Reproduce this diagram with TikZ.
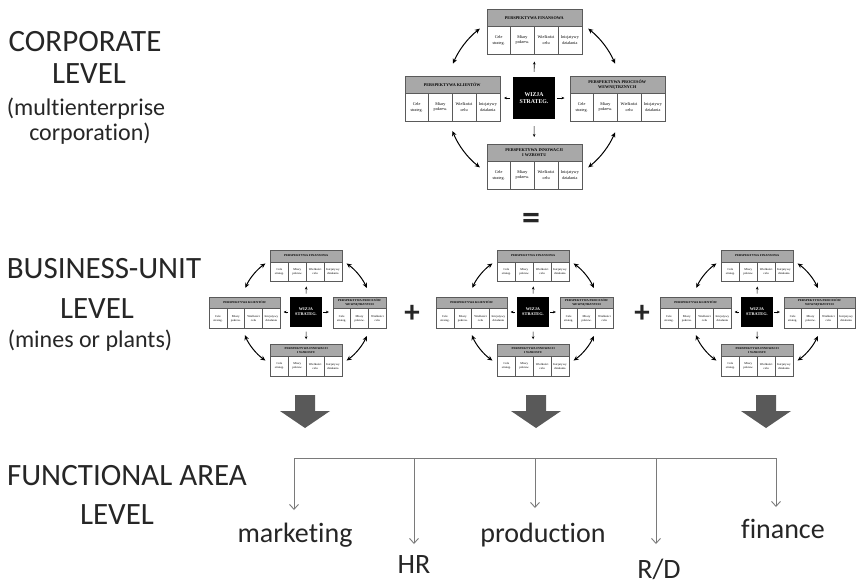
\documentclass[tikz,border=0pt]{standalone}
\usepackage{fontspec}
\setmainfont{Carlito}[Ligatures=NoCommon]
\newfontfamily\boxfont{Liberation Serif}
\usepackage{tikz}
\usetikzlibrary{arrows.meta, positioning, calc}
\definecolor{bscgray}{HTML}{A8A8A8}
\definecolor{bscline}{HTML}{5A5A5A}
\definecolor{dropgray}{HTML}{7A7A7A}
\definecolor{bigarrow}{HTML}{595959}
\definecolor{lvltext}{HTML}{262626}

\begin{document}
\begin{tikzpicture}[x=1pt, y=-1pt,
  hdr/.style={draw=bscline, fill=bscgray, line width=0.5pt, minimum height=17,
    inner sep=0.5pt, align=center, anchor=north west,
    font=\boxfont\bfseries\fontsize{4.2}{5}\selectfont},
  cell/.style={draw=bscline, fill=white, line width=0.5pt, minimum width=23.75,
    minimum height=28, inner sep=0pt, align=center, anchor=north west,
    font=\boxfont\fontsize{4.2}{5.6}\selectfont},
  wizja/.style={fill=black, minimum size=42, inner sep=0pt, align=center,
    text=white, font=\boxfont\bfseries\fontsize{5.8}{7.6}\selectfont},
  hub arrow/.style={-{Stealth[length=3pt,width=2.6pt]}, line width=0.6pt},
  loop arrow/.style={{Stealth[length=5pt,width=4.5pt]}-{Stealth[length=5pt,width=4.5pt]},
    line width=1pt},
  lvl/.style={font=\fontsize{31}{31}\selectfont, text=lvltext, inner sep=0pt, anchor=base},
  sublvl/.style={font=\fontsize{24}{24}\selectfont, text=lvltext, inner sep=0pt, anchor=base},
  area/.style={font=\fontsize{28}{28}\selectfont, text=lvltext, inner sep=0pt, anchor=base},
  sign/.style={font=\bfseries\fontsize{31}{31}\selectfont, text=lvltext, inner sep=0pt},
  spine/.style={draw=dropgray, line width=0.9pt},
  drop/.style={-{Straight Barb[length=5pt,width=9pt]}, draw=dropgray, line width=0.9pt}]

  \fill[white] (0,0) rectangle (864,587);
  \useasboundingbox (0,0) rectangle (864,587);

  %% --- level captions on the left ---
  \node[lvl] (corp1) at (85,51) {CORPORATE};
  \node[lvl] (corp2) at (89,83) {LEVEL};
  \node[sublvl] (corp3) at (86,115) {(multienterprise};
  \node[sublvl] (corp4) at (90,140) {corporation)};
  \node[lvl] (bu1) at (104,278) {BUSINESS-UNIT};
  \node[lvl] (bu2) at (97,318) {LEVEL};
  \node[sublvl] (bu3) at (90,347) {(mines or plants)};
  \node[lvl] (fa1) at (127,485) {FUNCTIONAL AREA};
  \node[lvl] (fa2) at (117,524) {LEVEL};

  %% --- scorecards: corporate one, then three business units ---
  \foreach \nm/\cx/\cy/\sx/\sy/\rc in {cor/534/98/1/1/4, bua/306/312/0.75/0.70/3,
      bub/533/312/0.75/0.70/3, buc/757/312/0.75/0.70/4} {
    \begin{scope}[shift={(\cx,\cy)}, xscale=\sx, yscale=\sy, transform shape]
      \node[wizja] (\nm-wiz) at (0,0) {WIZJA\\STRATEG.};
      %% perspectives: offset x/y, name, header, columns
      \foreach \bx/\by/\bn/\bh/\nc in {0/-66.5/fin/{PERSPEKTYWA FINANSOWA}/4,
          -82/0.5/kli/{PERSPEKTYWA KLIENTÓW}/4,
          83/0.5/pro/{PERSPEKTYWA PROCESÓW\\WEWNĘTRZNYCH}/\rc,
          0/68.5/inn/{PERSPEKTYWA INNOWACJI\\I WZROSTU}/4} {
        \node[hdr, minimum width=\nc*23.75] (\nm-\bn-h) at ({\bx-47.5},{\by-22.5}) {\bh};
        \foreach \t [count=\i] in {{Cele\\strateg.}, {Miary\\pokrew.},
            {Wielkości\\celu}, {Inicjatywy\\działania}} {
          \ifnum\i>\nc\relax\else
            \node[cell] (\nm-\bn-c\i) at ({\bx-47.5+23.75*(\i-1)},{\by-5.5}) {\t};
          \fi
        }
      }
      %% vision to perspectives
      \draw[hub arrow, shorten <={5pt*\sy}, shorten >={7pt*\sy}]
        (\nm-wiz.north) -- (\nm-fin-c2.south east);
      \draw[hub arrow, shorten <={3pt*\sx}, shorten >={4pt*\sx}]
        (\nm-wiz.west) -- (\nm-wiz.west -| \nm-kli-c4.east);
      \draw[hub arrow, shorten <={2pt*\sx}, shorten >={5pt*\sx}]
        (\nm-wiz.east) -- (\nm-wiz.east -| \nm-pro-c1.west);
      \draw[hub arrow, shorten <={7pt*\sy}, shorten >={7pt*\sy}]
        (\nm-wiz.south) -- (\nm-inn-h.north);
      %% feedback loops round the vision
      \foreach \a/\b [count=\k] in {-128/-157, -52/-23, -202/-232, -308/-337} {
        \coordinate (\nm-loop\k) at (\a:88);
        \draw[loop arrow] (\nm-loop\k) arc[start angle=\a, end angle=\b, radius=88];
      }
    \end{scope}
  }

  %% --- signs between the levels ---
  \node[sign, font=\bfseries\fontsize{36}{36}\selectfont] (eq) at (531,221) {=};
  \node[sign] (plus1) at (412,314) {+};
  \node[sign] (plus2) at (642,314) {+};

  %% --- big block arrows down ---
  \foreach \x in {305,536,766} {
    \fill[bigarrow] ({\x-10},395) -- ({\x+10},395) -- ({\x+10},411)
      -- ({\x+25},411) -- (\x,428) -- ({\x-25},411) -- ({\x-10},411) -- cycle;
  }

  %% --- functional areas ---
  \foreach \n/\x/\y in {1/294/510, 2/414/544, 3/535/508, 4/656/544, 5/776/507} {
    \coordinate (sp\n) at (\x,458);
    \coordinate (tip\n) at (\x,\y);
  }
  \draw[spine] (sp1) -- (sp5);
  \foreach \n in {1,...,5}
    \draw[drop] (sp\n) -- (tip\n);
  \node[area] (mkt) at (295,542) {marketing};
  \node[area] (hr) at (414,573) {HR};
  \node[area] (prod) at (543,542) {production};
  \node[area] (rd) at (659,578) {R/D};
  \node[area] (fin) at (783,538) {finance};
\end{tikzpicture}
\end{document}
